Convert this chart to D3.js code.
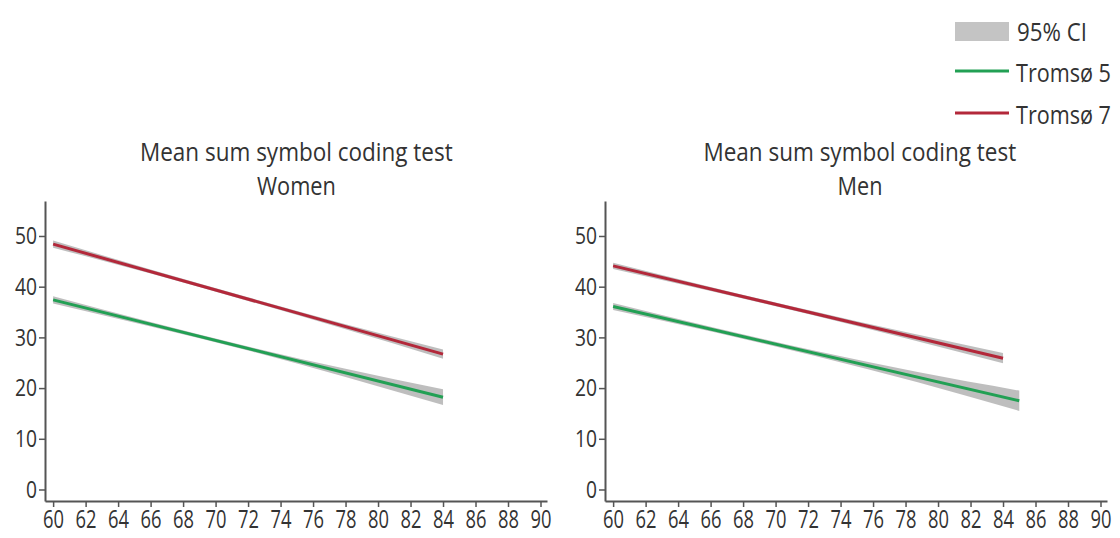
<!DOCTYPE html>
<html><head><meta charset="utf-8">
<script src="https://cdn.jsdelivr.net/npm/d3@7/dist/d3.min.js"></script>
<style>
body{margin:0;background:#fff;}
text{font-family:"Open Sans",sans-serif;fill:#333;}
</style></head>
<body><svg id="c" width="1120" height="538"></svg>
<script>
// ---- data ----
const panels = ["Women", "Men"];
const titleText = "Mean sum symbol coding test";
const xTicks = [60,62,64,66,68,70,72,74,76,78,80,82,84,86,88,90];
const yTicks = [0,10,20,30,40,50];
const seriesNames = ["Tromsø 5", "Tromsø 7"];
const legendCI = "95% CI";

// Women – fitted lines (endpoints) and CI band
const womenAge     = [60, 84];
const womenT5      = [37.4, 18.2];
const womenT7      = [48.4, 26.7];
const womenBandAge = [60, 66, 72, 78, 84];
const womenT5lo    = [36.7, 32.15, 27.4, 22.2, 16.65];
const womenT5hi    = [38.1, 33.05, 28.2, 23.8, 19.75];
const womenT7lo    = [47.7, 42.6, 37.2, 31.6, 25.8];
const womenT7hi    = [49.1, 43.4, 37.9, 32.6, 27.6];
// Men
const menT5Age     = [60, 85];
const menT5        = [36.1, 17.5];
const menT5BandAge = [60, 66.25, 72.5, 78.75, 85];
const menT5lo      = [35.4, 31.0, 26.3, 21.15, 15.5];
const menT5hi      = [36.8, 31.9, 27.3, 23.15, 19.5];
const menT7Age     = [60, 84];
const menT7        = [44.1, 25.9];
const menT7BandAge = [60, 66, 72, 78, 84];
const menT7lo      = [43.5, 39.15, 34.6, 29.85, 24.9];
const menT7hi      = [44.7, 39.95, 35.4, 31.05, 26.9];

const colors = {"Tromsø 5":"#22a054", "Tromsø 7":"#b3283a"};

function line(ages, m){ return ages.map((a,i)=>({age:a, v:m[i]})); }
function band(ages, lo, hi){ return ages.map((a,i)=>({age:a, lo:lo[i], hi:hi[i]})); }
const data = {
  Women: [
    {name:"Tromsø 5", line: line(womenAge, womenT5), band: band(womenBandAge, womenT5lo, womenT5hi)},
    {name:"Tromsø 7", line: line(womenAge, womenT7), band: band(womenBandAge, womenT7lo, womenT7hi)}
  ],
  Men: [
    {name:"Tromsø 5", line: line(menT5Age, menT5), band: band(menT5BandAge, menT5lo, menT5hi)},
    {name:"Tromsø 7", line: line(menT7Age, menT7), band: band(menT7BandAge, menT7lo, menT7hi)}
  ]
};

const svg = d3.select("#c");
const offsets = [0, 560];

// helper: squeeze text horizontally to a target width using a transform
function squeezed(parent, x, y, txt, size, width, anchor){
  const g = parent.append("g");
  const t = g.append("text").style("font-size", size + "px").text(txt);
  const w = t.node().getComputedTextLength();
  const s = width / w;
  let x0 = x;
  if (anchor === "middle") x0 = x - width/2;
  g.attr("transform", `translate(${x0},${y}) scale(${s},1)`);
  return g;
}

panels.forEach((p, pi) => {
  const ox = offsets[pi];
  const x = d3.scaleLinear().domain([59.5, 90.4]).range([45+ox, 547+ox]);
  const y = d3.scaleLinear().domain([-2.27, 56.9]).range([501, 201]);
  const g = svg.append("g");

  data[p].forEach(s => {
    g.append("path").datum(s.band)
      .attr("d", d3.area().curve(d3.curveMonotoneX).x(d=>x(d.age)).y0(d=>y(d.lo)).y1(d=>y(d.hi)))
      .attr("fill", "#a8a8a8").attr("opacity", 0.75);
  });
  data[p].forEach(s => {
    g.append("path").datum(s.line)
      .attr("d", d3.line().x(d=>x(d.age)).y(d=>y(d.v)))
      .attr("fill","none").attr("stroke", colors[s.name]).attr("stroke-width", 3);
  });

  const ya = g.append("g").attr("transform", `translate(${45+ox},0)`)
    .call(d3.axisLeft(y).tickValues(yTicks).tickSize(6).tickPadding(2).tickSizeOuter(0));
  const xa = g.append("g").attr("transform", `translate(0,501)`)
    .call(d3.axisBottom(x).tickValues(xTicks).tickSize(6).tickPadding(3).tickSizeOuter(0));
  [ya, xa].forEach(a => {
    a.select(".domain").attr("stroke", "#555").attr("stroke-width", 2);
    a.selectAll(".tick line").attr("stroke", "#555").attr("stroke-width", 1.5);
    a.selectAll(".tick text").attr("fill", "#333")
      .style("font-family", '"Open Sans",sans-serif');
  });
  ya.selectAll(".tick text").style("font-size", "24px").each(function(d){
    d3.select(this).attr("textLength", String(d).length*11).attr("lengthAdjust","spacingAndGlyphs");
  });
  xa.selectAll(".tick text").style("font-size", "26px")
    .attr("textLength", 21).attr("lengthAdjust","spacingAndGlyphs");

  const cx = 296.5 + (pi===0 ? 0 : 563.5);
  squeezed(g, cx, 161, titleText, 25, 313, "middle");
  squeezed(g, cx, 195, p, 25, p==="Women" ? 79 : 45, "middle");
});

// legend
const lg = svg.append("g");
lg.append("rect").attr("x", 955).attr("y", 22).attr("width", 54).attr("height", 19).attr("fill", "#c4c4c4");
squeezed(lg, 1017, 41, legendCI, 26, 70, "start");
seriesNames.forEach((n, i) => {
  const yy = 71 + i*42;
  lg.append("line").attr("x1", 955).attr("x2", 1009).attr("y1", yy).attr("y2", yy)
    .attr("stroke", colors[n]).attr("stroke-width", 3);
  squeezed(lg, 1016, yy + 11, n, 26, 95, "start");
});
</script></body></html>
